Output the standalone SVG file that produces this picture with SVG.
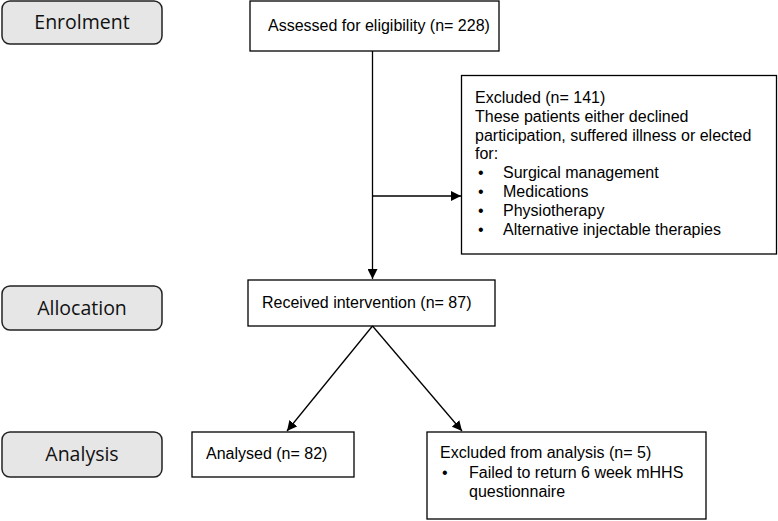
<svg xmlns="http://www.w3.org/2000/svg" width="778" height="521" viewBox="0 0 778 521">
<style>
.lab{fill:#e6e6e6;stroke:#222;stroke-width:1.5}
.box{fill:#fff;stroke:#000;stroke-width:1.3}
.lt{font-family:"Open Sans","Noto Sans",sans-serif;font-size:19.5px;fill:#111;text-anchor:middle}
.t{font-family:"Liberation Sans",Arial,sans-serif;font-size:16px;fill:#000}
.ln{fill:none;stroke:#000;stroke-width:1.3}
</style>
<defs>
<marker id="ah" viewBox="0 0 10 10" refX="10" refY="5" markerWidth="10" markerHeight="10" markerUnits="userSpaceOnUse" orient="auto">
<path d="M0,0 L10,5 L0,10 z" fill="#000"/>
</marker>
</defs>
<rect width="778" height="521" fill="#fff"/>
<g id="enrolment">
<rect class="lab" x="2" y="1" width="160" height="43" rx="8"/>
<text class="lt" x="82" y="29">Enrolment</text>
</g>
<g id="allocation">
<rect class="lab" x="2" y="286" width="160" height="44" rx="8"/>
<text class="lt" x="82" y="315">Allocation</text>
</g>
<g id="analysis">
<rect class="lab" x="2" y="432" width="160" height="45" rx="8"/>
<text class="lt" x="82" y="461">Analysis</text>
</g>
<g id="assessed">
<rect class="box" x="250" y="1" width="249" height="50"/>
<text class="t" x="268" y="31">Assessed for eligibility (n= 228)</text>
</g>
<g id="excluded">
<rect class="box" x="461.5" y="75.5" width="315" height="178.5"/>
<text class="t" x="475" y="103">Excluded (n= 141)</text>
<text class="t" x="475" y="122">These patients either declined</text>
<text class="t" x="475" y="141">participation, suffered illness or elected</text>
<text class="t" x="475" y="159">for:</text>
<text class="t" x="478" y="178">•</text><text class="t" x="503" y="178">Surgical management</text>
<text class="t" x="478" y="197">•</text><text class="t" x="503" y="197">Medications</text>
<text class="t" x="478" y="216">•</text><text class="t" x="503" y="216">Physiotherapy</text>
<text class="t" x="478" y="235">•</text><text class="t" x="503" y="235">Alternative injectable therapies</text>
</g>
<g id="received">
<rect class="box" x="248" y="280" width="247" height="46"/>
<text class="t" x="262" y="308">Received intervention (n= 87)</text>
</g>
<g id="analysed">
<rect class="box" x="192" y="432" width="162" height="45"/>
<text class="t" x="206" y="459">Analysed (n= 82)</text>
</g>
<g id="excluded-analysis">
<rect class="box" x="427" y="432" width="279" height="87"/>
<text class="t" x="440" y="458">Excluded from analysis (n= 5)</text>
<text class="t" x="442" y="478">•</text><text class="t" x="469" y="478">Failed to return 6 week mHHS</text>
<text class="t" x="469" y="497">questionnaire</text>
</g>
<g id="connectors">
<line class="ln" x1="372.5" y1="51" x2="372.5" y2="279" marker-end="url(#ah)"/>
<line class="ln" x1="372.5" y1="196" x2="461" y2="196" marker-end="url(#ah)"/>
<line class="ln" x1="372.5" y1="326" x2="287" y2="431" marker-end="url(#ah)"/>
<line class="ln" x1="372.5" y1="326" x2="462" y2="431" marker-end="url(#ah)"/>
</g>
</svg>
